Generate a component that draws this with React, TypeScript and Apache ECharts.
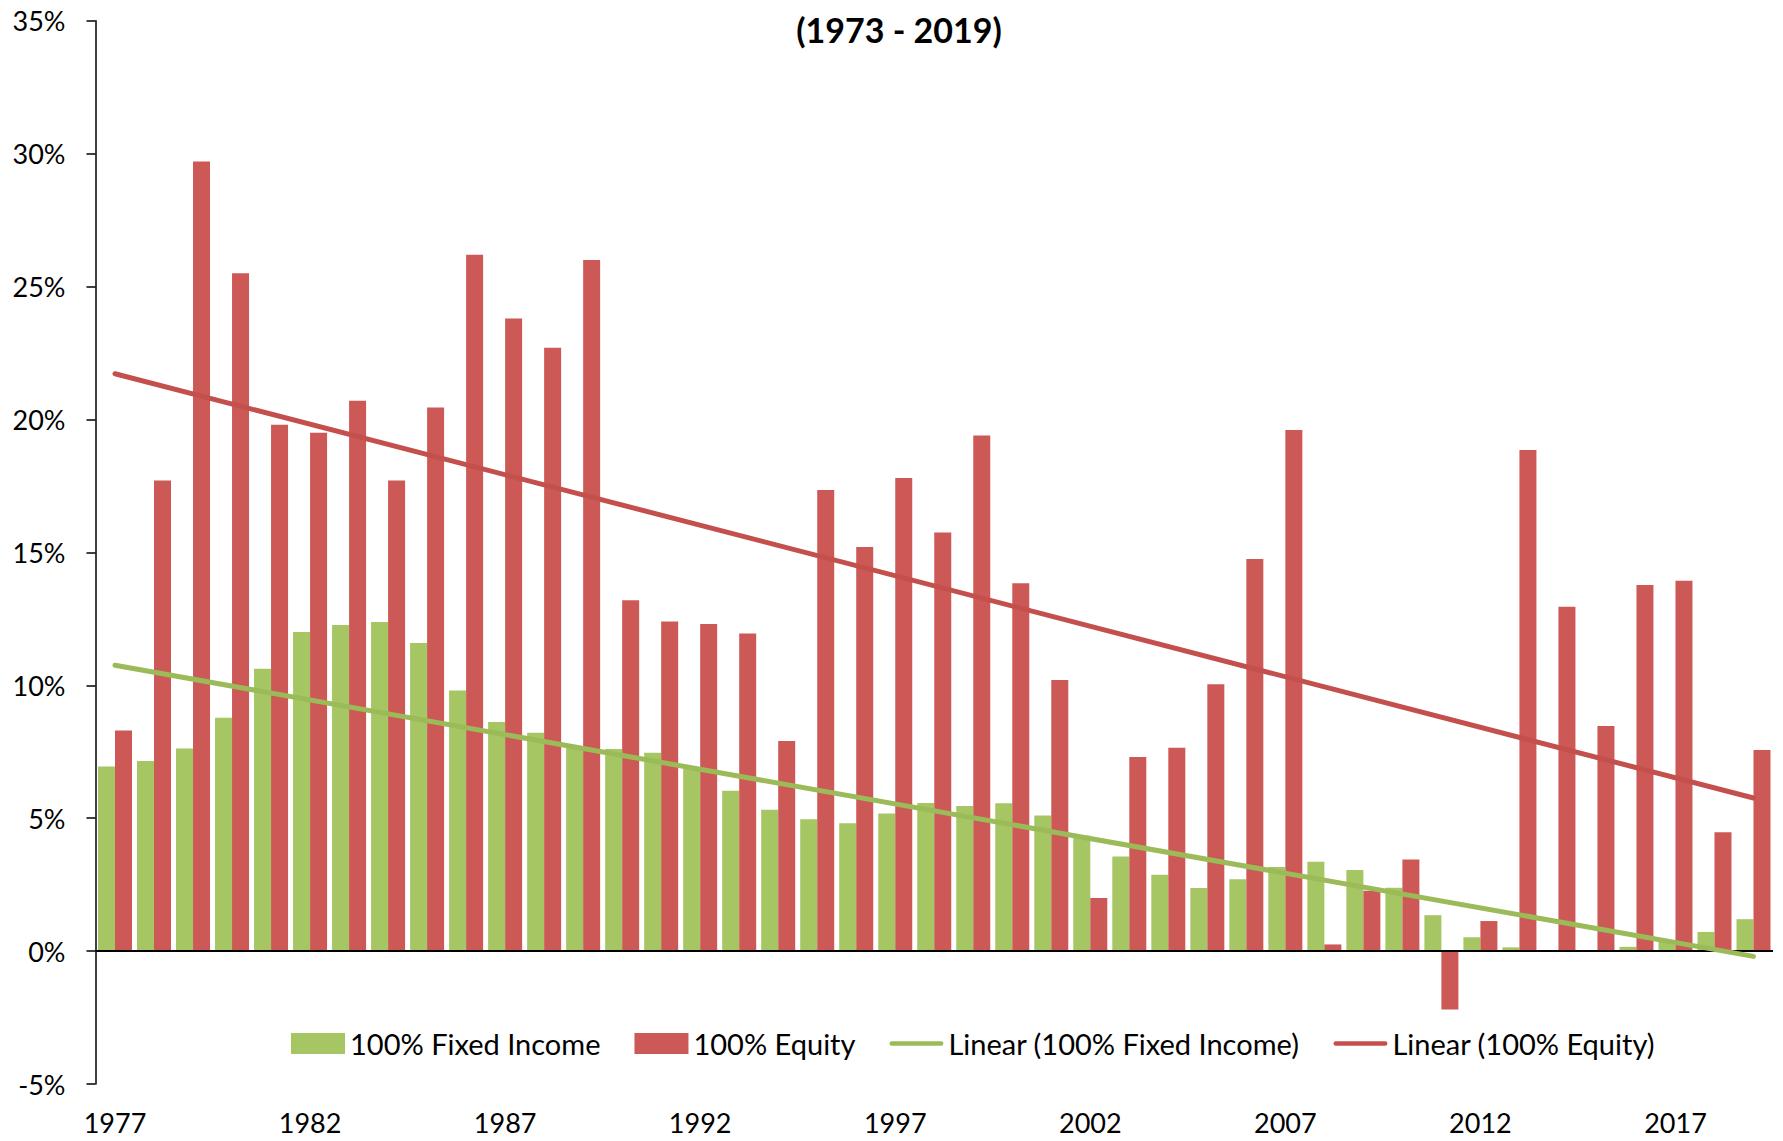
import React, { useEffect, useRef } from "react";
import * as echarts from "echarts";

const years: string[] = [
  "1977", "1978", "1979", "1980", "1981", "1982", "1983", "1984", "1985", "1986",
  "1987", "1988", "1989", "1990", "1991", "1992", "1993", "1994", "1995", "1996",
  "1997", "1998", "1999", "2000", "2001", "2002", "2003", "2004", "2005", "2006",
  "2007", "2008", "2009", "2010", "2011", "2012", "2013", "2014", "2015", "2016",
  "2017", "2018", "2019",
];

const fixedIncome: number[] = [
  6.94, 7.15, 7.62, 8.78, 10.62, 12.0, 12.27, 12.38, 11.59, 9.8,
  8.62, 8.21, 7.7, 7.6, 7.46, 6.85, 6.03, 5.32, 4.96, 4.81,
  5.18, 5.57, 5.46, 5.56, 5.1, 4.34, 3.56, 2.87, 2.37, 2.7,
  3.16, 3.36, 3.05, 2.38, 1.35, 0.52, 0.14, 0.04, 0.04, 0.16,
  0.35, 0.72, 1.2,
];

const equity: number[] = [
  8.3, 17.7, 29.7, 25.5, 19.8, 19.5, 20.7, 17.7, 20.45, 26.2,
  23.8, 22.7, 26.0, 13.2, 12.4, 12.3, 11.95, 7.9, 17.35, 15.2,
  17.8, 15.75, 19.4, 13.84, 10.2, 2.0, 7.3, 7.65, 10.04, 14.75,
  19.6, 0.25, 2.27, 3.45, -2.2, 1.13, 18.85, 12.95, 8.47, 13.77,
  13.93, 4.47, 7.56,
];

// Trendline end points (first and last year)
const trendFixedIncome: [string, number][] = [["1977", 10.75], ["2019", -0.2]];
const trendEquity: [string, number][] = [["1977", 21.72], ["2019", 5.76]];

const titleText = "(1973 - 2019)";
const seriesNames = [
  "100% Fixed Income",
  "100% Equity",
  "Linear (100% Fixed Income)",
  "Linear (100% Equity)",
];

const FONT = "Lato, 'Open Sans', sans-serif";
const GREEN_BAR = "#A6C563";
const RED_BAR = "#CC5956";
const GREEN_LINE = "#9BBB59";
const RED_LINE = "#C4504D";
const LINE_ICON = "path://M2.5 0H54.5A2.5 2.5 0 0 1 54.5 5H2.5A2.5 2.5 0 0 1 2.5 0Z";

export default function App() {
  const ref = useRef<HTMLDivElement>(null);

  useEffect(() => {
    if (!ref.current) return;
    const chart = echarts.init(ref.current, null, { renderer: "svg" });
    chart.setOption({
      animation: false,
      backgroundColor: "#ffffff",
      textStyle: { fontFamily: FONT, color: "#000" },
      graphic: [
        {
          type: "text",
          x: 899,
          y: 29,
          style: {
            text: titleText,
            font: `bold 34px ${FONT}`,
            fill: "#000",
            align: "center",
            verticalAlign: "middle",
          },
        },
      ],
      grid: { left: 95.5, right: 10, top: 20.7, bottom: 57, containLabel: false },
      legend: {
        left: 286,
        top: 1024,
        itemWidth: 54,
        itemHeight: 21,
        itemGap: 34,
        textStyle: { fontFamily: FONT, fontSize: 29, color: "#000" },
        data: [
          { name: seriesNames[0], icon: "rect" },
          { name: seriesNames[1], icon: "rect" },
          { name: seriesNames[2], icon: LINE_ICON },
          { name: seriesNames[3], icon: LINE_ICON },
        ],
      },
      xAxis: {
        type: "category",
        data: years,
        axisLine: { show: false },
        axisTick: { show: false },
        axisLabel: {
          interval: 4,
          margin: 25,
          fontFamily: FONT,
          fontSize: 27,
          color: "#000",
        },
        splitLine: { show: false },
      },
      yAxis: {
        type: "value",
        min: -5,
        max: 35,
        interval: 5,
        axisLine: { show: true, lineStyle: { color: "#000", width: 1.5 } },
        axisTick: { show: true, inside: false, length: 9, lineStyle: { color: "#000", width: 1.5 } },
        axisLabel: {
          formatter: "{value}%",
          margin: 30,
          fontFamily: FONT,
          fontSize: 27,
          color: "#000",
        },
        splitLine: { show: false },
      },
      series: [
        {
          name: seriesNames[0],
          type: "bar",
          data: fixedIncome,
          barWidth: 17,
          barGap: "0%",
          itemStyle: { color: GREEN_BAR },
          markLine: {
            silent: true,
            symbol: "none",
            label: { show: false },
            lineStyle: { color: "#000", width: 2, type: "solid" },
            data: [{ yAxis: 0 }],
          },
        },
        {
          name: seriesNames[1],
          type: "bar",
          data: equity,
          barWidth: 17,
          barGap: "0%",
          itemStyle: { color: RED_BAR },
        },
        {
          name: seriesNames[2],
          type: "line",
          data: trendFixedIncome,
          symbol: "none",
          itemStyle: { color: GREEN_LINE },
          lineStyle: { color: GREEN_LINE, width: 5, cap: "round" },
          z: 5,
        },
        {
          name: seriesNames[3],
          type: "line",
          data: trendEquity,
          symbol: "none",
          itemStyle: { color: RED_LINE },
          lineStyle: { color: RED_LINE, width: 5, cap: "round" },
          z: 5,
        },
      ],
    });
    return () => chart.dispose();
  }, []);

  return (
    <div
      ref={ref}
      style={{ position: "fixed", left: 0, top: 0, width: 1783, height: 1141, background: "#fff" }}
    />
  );
}
